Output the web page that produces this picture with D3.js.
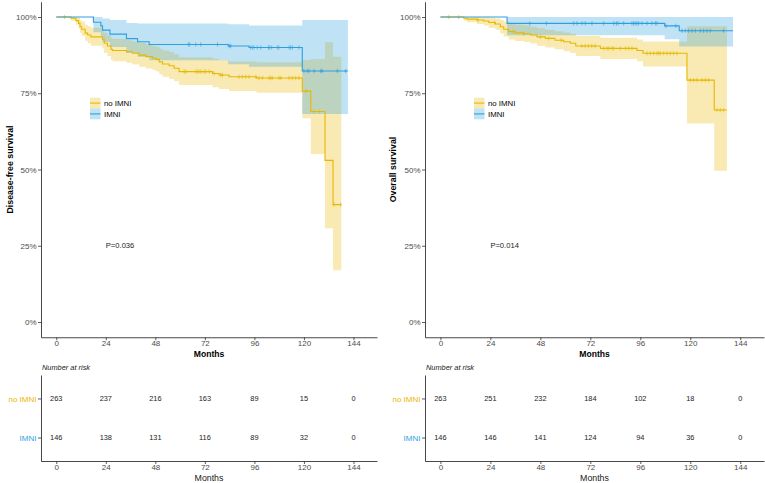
<!DOCTYPE html>
<html>
<head>
<meta charset="utf-8">
<script src="https://cdn.jsdelivr.net/npm/d3@7"></script>
<style>
  body { margin: 0; background: #fff; }
  text { font-family: "Liberation Sans", Arial, sans-serif; }
</style>
</head>
<body>
<svg id="chart" width="765" height="483"></svg>
<script>
// strata colours (survminer style)
const colNo = "#E7B800";
const colIm = "#2E9FDF";

const months = [0, 24, 48, 72, 96, 120, 144];
const pctTicks = [0, 0.25, 0.5, 0.75, 1];
const groups = ["no IMNI", "IMNI"];

// ---- Disease-free survival, no IMNI ----
const dfsNoTime  = [0, 7.1, 9.5, 10.8, 11.5, 12.3, 14.0, 15.2, 16.8, 22.4, 23.2, 24.8, 26.5, 27.3, 34.0, 36.9, 40.2, 43.4, 46.6, 48.3, 49.9, 51.5, 54.7, 57.1, 59.5, 75.7, 78.9, 83.7, 97, 119.2, 123.3, 130.2, 134.1];
const dfsNoSurv  = [1, .996, .988, .979, .968, .960, .947, .941, .935, .927, .914, .905, .894, .890, .886, .881, .875, .870, .865, .861, .853, .846, .840, .832, .821, .815, .810, .804, .800, .757, .690, .530, .385];
const dfsNoUpper = [1, 1, 1, .998, .990, .985, .975, .970, .965, .958, .948, .940, .931, .928, .924, .920, .915, .911, .906, .903, .896, .890, .885, .878, .868, .863, .859, .854, .852, .859, .862, .917, .870];
const dfsNoLower = [1, .988, .975, .962, .948, .938, .922, .914, .906, .897, .882, .872, .859, .855, .850, .844, .837, .831, .826, .821, .812, .804, .797, .789, .777, .770, .764, .757, .752, .668, .551, .307, .170];
const dfsNoEnd = 138.1;
const dfsNoCensor = [4, 62, 62.8, 67.6, 68.4, 69.2, 70, 71.6, 72.5, 74.1, 76.5, 79.7, 80.5, 88.6, 90.2, 91.8, 93.4, 96.7, 98.2, 99.9, 103.1, 103.9, 104.7, 107.9, 108.8, 112.8, 114.4, 116, 117.6, 120.9, 124.9, 127.3, 134.6, 137.8];

// ---- Disease-free survival, IMNI ----
const dfsImTime  = [0, 18, 21.6, 22.4, 26, 34, 39.4, 45, 83.3, 93.4, 119.2];
const dfsImSurv  = [1, .983, .971, .957, .944, .929, .919, .910, .905, .900, .823];
const dfsImUpper = [1, 1, 1, .995, .990, .980, .979, .979, .976, .972, .990];
const dfsImLower = [1, .950, .935, .918, .902, .882, .870, .858, .845, .837, .682];
const dfsImEnd = 141.3;
const dfsImCensor = [64, 64.7, 67.6, 70, 78.1, 83.8, 84.5, 94.2, 95, 95.8, 97.4, 99.1, 102.8, 103.4, 104.4, 107.1, 107.9, 112.8, 113.6, 114.4, 117.6, 120, 121.6, 122.5, 124.9, 128.1, 128.9, 136.2, 140.2];

// ---- Overall survival, no IMNI ----
const osNoTime  = [0, 11.2, 12.8, 17.6, 20.8, 23.2, 26.4, 28.8, 30.4, 32.8, 36, 40, 43.2, 46.4, 50.4, 55, 59.2, 62.4, 65, 76.8, 94.4, 97.3, 118.4, 131.5];
const osNoSurv  = [1, .996, .993, .990, .987, .982, .977, .968, .960, .952, .948, .945, .941, .935, .930, .924, .919, .914, .905, .897, .890, .881, .793, .695];
const osNoUpper = [1, 1, 1, 1, 1, .998, .995, .990, .985, .978, .975, .972, .968, .963, .958, .953, .949, .945, .938, .932, .926, .920, .970, .970];
const osNoLower = [1, .988, .983, .977, .972, .965, .958, .946, .936, .926, .921, .918, .913, .906, .900, .894, .888, .882, .872, .862, .855, .838, .651, .496];
const osNoEnd = 137.6;
const osNoCensor = [4, 8.8, 18, 26, 35, 40, 48, 52, 58, 67.9, 69.5, 71.1, 72.7, 74.3, 78.4, 80, 80.8, 82.4, 83.2, 86.4, 88.8, 90.4, 92, 99.2, 100.8, 102.4, 104, 104.8, 105.6, 107.2, 108.8, 110.4, 112, 113.6, 120, 121.6, 123.2, 125.6, 127.2, 128.8, 132.8, 134.4, 136];

// ---- Overall survival, IMNI ----
const osImTime  = [0, 32, 107.7, 114.7];
const osImSurv  = [1, .979, .971, .955];
const osImUpper = [1, 1, 1, 1];
const osImLower = [1, .940, .927, .903];
const osImEnd = 140.5;
const osImCensor = [42.9, 50.9, 64, 65.6, 68, 69.6, 72.8, 78.4, 83.2, 84.5, 85.3, 88, 92, 92.8, 93.6, 94.4, 95.2, 96.8, 99.2, 101.6, 103.2, 104, 108.3, 113.1, 116, 117.6, 119.2, 120.8, 122.4, 124.8, 126.4, 128, 129.6, 136];

// ---- numbers at risk ----
const dfsRiskNo = [263, 237, 216, 163, 89, 15, 0];
const dfsRiskIm = [146, 138, 131, 116, 89, 32, 0];
const osRiskNo  = [263, 251, 232, 184, 102, 18, 0];
const osRiskIm  = [146, 146, 141, 124, 94, 36, 0];

const svg = d3.select("#chart");

function curve(time, surv, upper, lower, end, censor, color) {
  let rows = time.map((t, i) => ({ t: t, s: surv[i], u: upper[i], l: lower[i] }));
  let last = rows[rows.length - 1];
  rows.push({ t: end, s: last.s, u: last.u, l: last.l });
  return { rows: rows, time: time, surv: surv, censor: censor, color: color };
}

const panels = [
  {
    yTitle: "Disease-free survival", pval: "P=0.036", x0: 41, x1: 377, titleX: 10,
    curves: [
      curve(dfsNoTime, dfsNoSurv, dfsNoUpper, dfsNoLower, dfsNoEnd, dfsNoCensor, colNo),
      curve(dfsImTime, dfsImSurv, dfsImUpper, dfsImLower, dfsImEnd, dfsImCensor, colIm)
    ],
    risk: [dfsRiskNo, dfsRiskIm]
  },
  {
    yTitle: "Overall survival", pval: "P=0.014", x0: 425, x1: 764, titleX: 393,
    curves: [
      curve(osNoTime, osNoSurv, osNoUpper, osNoLower, osNoEnd, osNoCensor, colNo),
      curve(osImTime, osImSurv, osImUpper, osImLower, osImEnd, osImCensor, colIm)
    ],
    risk: [osRiskNo, osRiskIm]
  }
];

function styleAxis(g) {
  g.select(".domain").attr("stroke", "#333").attr("stroke-width", 0.9);
  g.selectAll(".tick line").attr("stroke", "#333").attr("stroke-width", 0.8);
  g.selectAll(".tick text").attr("fill", "#4d4d4d").style("font-size", "8px");
}

panels.forEach(p => {
  let x = d3.scaleLinear().domain([-7.4, 155.4]).range([p.x0, p.x1]);
  let y = d3.scaleLinear().domain([-0.05, 1.05]).range([337.25, 1.75]);

  let g = svg.append("g");

  let area = d3.area()
    .x(d => x(d.t))
    .y0(d => y(d.l))
    .y1(d => y(d.u))
    .curve(d3.curveStepAfter);
  let line = d3.line()
    .x(d => x(d.t))
    .y(d => y(d.s))
    .curve(d3.curveStepAfter);

  p.curves.forEach(c => {
    g.append("path")
      .attr("d", area(c.rows))
      .attr("fill", c.color)
      .attr("fill-opacity", 0.3);
  });
  p.curves.forEach(c => {
    g.append("path")
      .attr("d", line(c.rows))
      .attr("fill", "none")
      .attr("stroke", c.color)
      .attr("stroke-width", 1.1);
    c.censor.forEach(t => {
      let i = d3.bisectRight(c.time, t) - 1;
      let cx = x(t), cy = y(c.surv[i]);
      g.append("path")
        .attr("d", `M${cx},${cy - 2.2}V${cy + 2.2}M${cx - 1.4},${cy}H${cx + 1.4}`)
        .attr("stroke", c.color)
        .attr("stroke-width", 0.6);
    });
  });

  // axes
  let ax = g.append("g")
    .attr("transform", "translate(0,337.25)")
    .call(d3.axisBottom(x).tickValues(months).tickSize(3).tickPadding(0).tickSizeOuter(0));
  styleAxis(ax);
  let ay = g.append("g")
    .attr("transform", `translate(${p.x0},0)`)
    .call(d3.axisLeft(y).tickValues(pctTicks).tickFormat(d3.format(".0%")).tickSize(3).tickPadding(1.5).tickSizeOuter(0));
  styleAxis(ay);

  g.append("text")
    .attr("x", (p.x0 + p.x1) / 2)
    .attr("y", 356.5)
    .attr("text-anchor", "middle")
    .style("font-size", "8.6px")
    .style("font-weight", "700")
    .text("Months");

  g.append("text")
    .attr("transform", `translate(${p.titleX + 3},${y(0.5)}) rotate(-90)`)
    .attr("text-anchor", "middle")
    .style("font-size", "8.8px")
    .style("font-weight", "700")
    .text(p.yTitle);

  g.append("text")
    .attr("x", x(24))
    .attr("y", y(0.25))
    .attr("dy", "0.35em")
    .style("font-size", "7.6px")
    .attr("fill", "#222")
    .text(p.pval);

  // legend
  let lx = p.x0 + 49;
  groups.forEach((name, k) => {
    let ly = 97.7 + k * 10.8;
    g.append("rect")
      .attr("x", lx).attr("y", ly)
      .attr("width", 10.5).attr("height", 10.8)
      .attr("fill", p.curves[k].color)
      .attr("fill-opacity", 0.3);
    g.append("line")
      .attr("x1", lx).attr("x2", lx + 10.5)
      .attr("y1", ly + 5.4).attr("y2", ly + 5.4)
      .attr("stroke", p.curves[k].color)
      .attr("stroke-width", 1.1);
    g.append("text")
      .attr("x", lx + 14)
      .attr("y", ly + 5.4)
      .attr("dy", "0.35em")
      .style("font-size", "7.8px")
      .text(name);
  });

  // risk table
  let yr = d3.scaleLinear().domain([0.4, 2.6]).range([461, 375]);
  g.append("text")
    .attr("x", p.x0 + 1)
    .attr("y", 367.7)
    .attr("dy", "0.35em")
    .style("font-size", "7.4px")
    .style("font-style", "italic")
    .attr("fill", "#222")
    .text("Number at risk");

  p.risk.forEach((vals, k) => {
    let rowY = yr(2 - k);
    vals.forEach((v, j) => {
      g.append("text")
        .attr("x", x(months[j]))
        .attr("y", rowY)
        .attr("dy", "0.35em")
        .attr("text-anchor", "middle")
        .style("font-size", "7.4px")
        .attr("fill", "#222")
        .text(v);
    });
  });

  let rx = g.append("g")
    .attr("transform", "translate(0,461)")
    .call(d3.axisBottom(x).tickValues(months).tickSize(3).tickPadding(0).tickSizeOuter(0));
  styleAxis(rx);
  let ry = g.append("g")
    .attr("transform", `translate(${p.x0},0)`)
    .call(d3.axisLeft(yr).tickValues([2, 1]).tickFormat(d => groups[2 - d]).tickSize(3).tickPadding(1.5).tickSizeOuter(0));
  styleAxis(ry);
  ry.selectAll(".tick text")
    .attr("fill", d => d === 2 ? colNo : colIm);

  g.append("text")
    .attr("x", (p.x0 + p.x1) / 2)
    .attr("y", 477.5)
    .attr("dy", "0.35em")
    .attr("text-anchor", "middle")
    .style("font-size", "8.8px")
    .attr("fill", "#222")
    .text("Months");
});
</script>
</body>
</html>
